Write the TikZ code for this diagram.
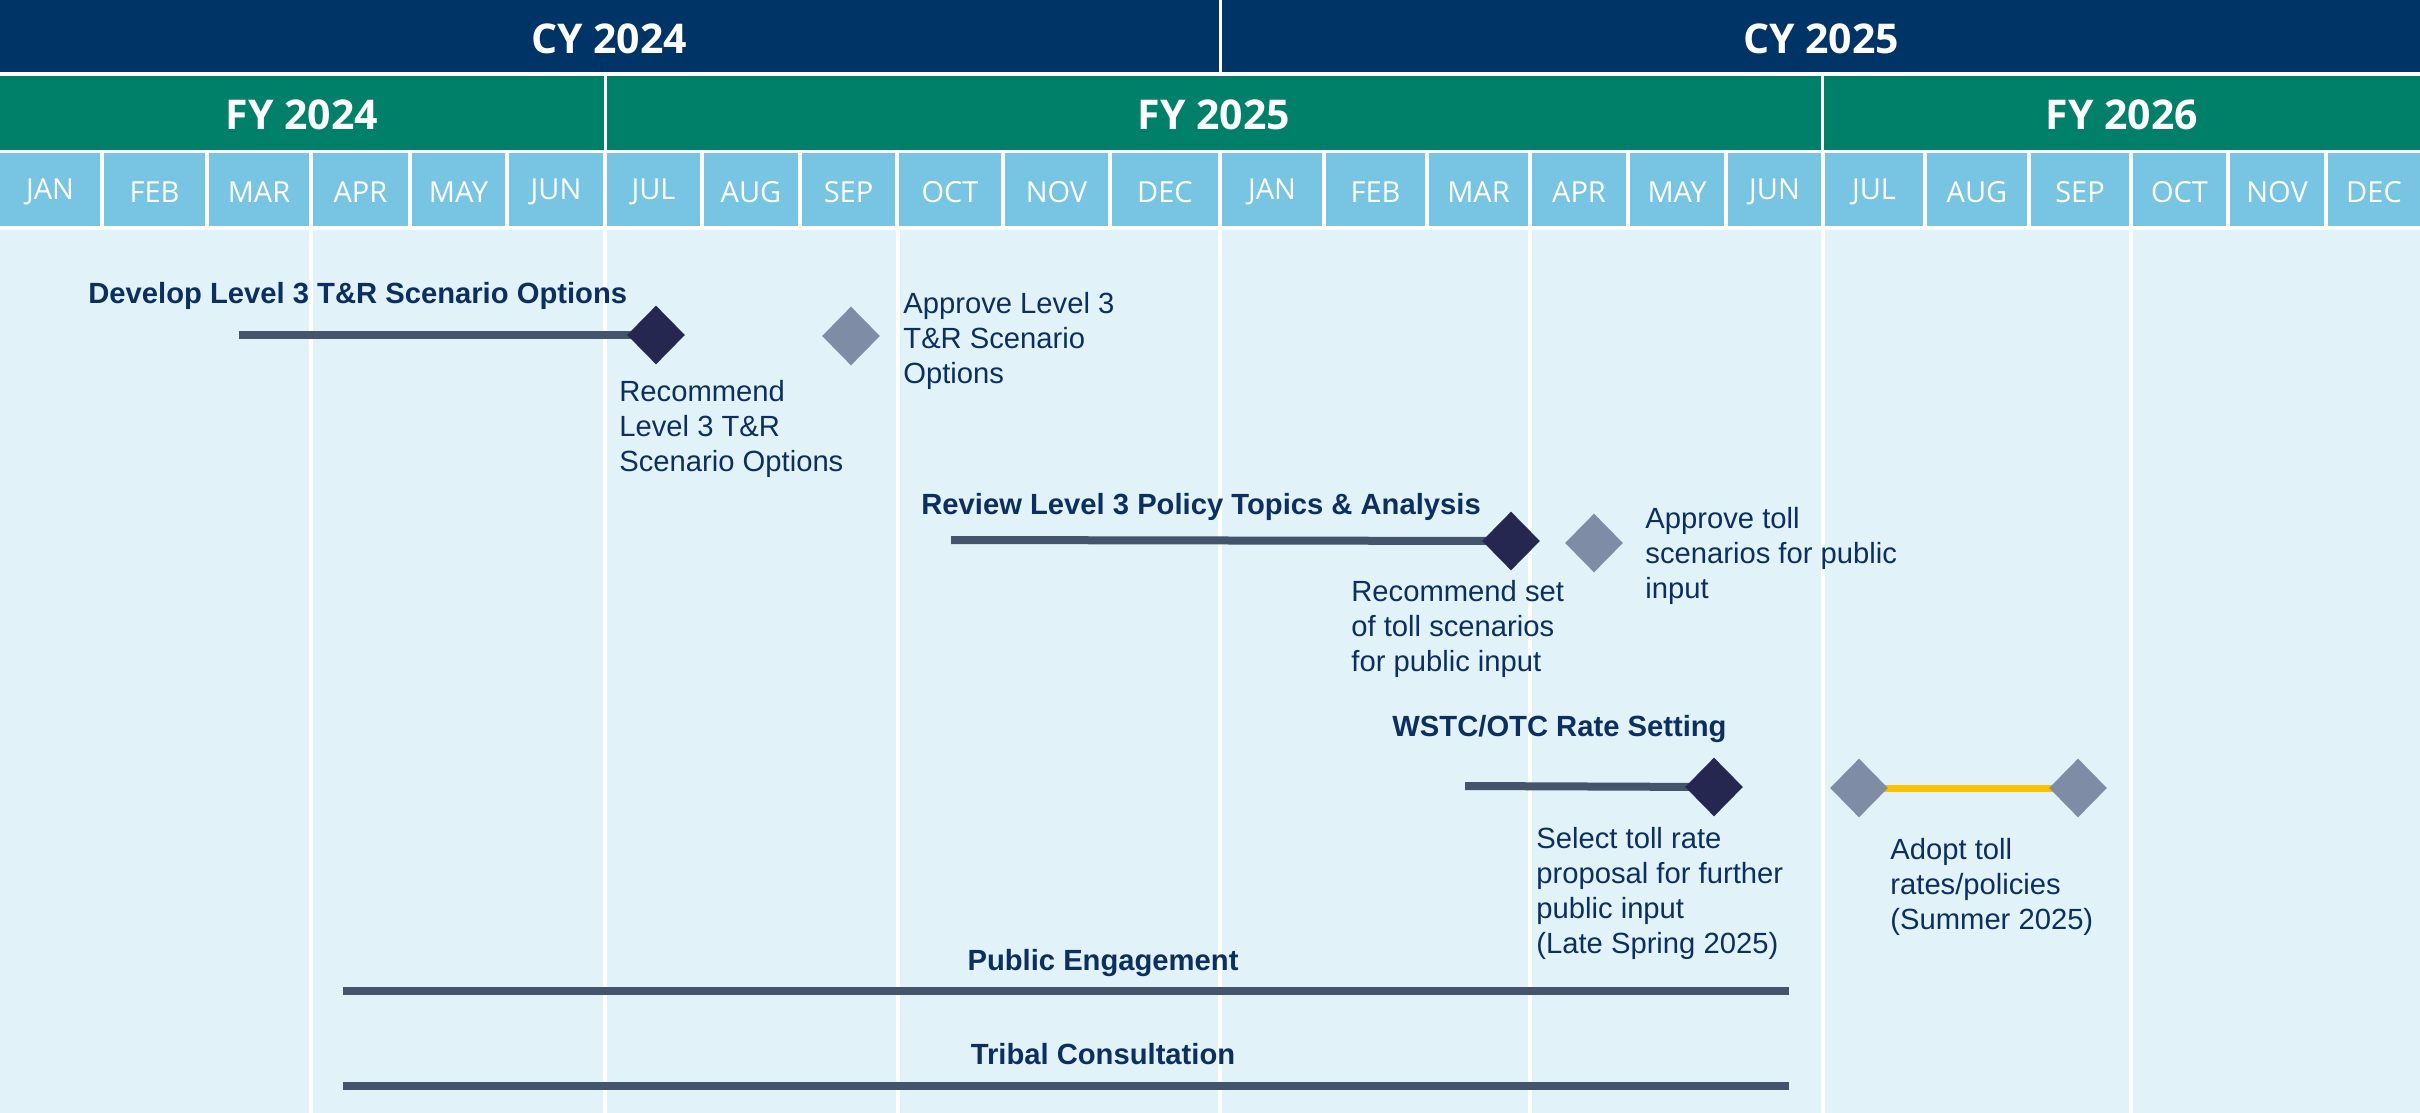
\documentclass[tikz,border=0pt]{standalone}
\usepackage{fontspec}
\setmainfont{Liberation Sans}
\newfontfamily\hdrfont{Open Sans}
\usetikzlibrary{shapes.geometric}
\definecolor{cynavy}{HTML}{003366}
\definecolor{fygreen}{HTML}{008069}
\definecolor{monthblue}{HTML}{77C5E3}
\definecolor{bodyblue}{HTML}{E1F2F9}
\definecolor{barslate}{HTML}{44546A}
\definecolor{darkdia}{HTML}{262751}
\definecolor{lightdia}{HTML}{7F8CA5}
\definecolor{txtnavy}{HTML}{0C2F5F}
\definecolor{goldbar}{HTML}{FFC000}
\pgfdeclarelayer{bg}
\pgfdeclarelayer{bars}
\pgfsetlayers{bg,bars,main}
\begin{document}
\begin{tikzpicture}[x=0.5pt,y=-0.5pt,
  yeartxt/.style={text=white,font=\hdrfont\bfseries\fontsize{20.5}{24}\selectfont,inner sep=0pt},
  montxt/.style={text=white,font=\hdrfont\fontsize{14.5}{17}\selectfont,inner sep=0pt},
  titletxt/.style={text=txtnavy,font=\bfseries\fontsize{14.6}{17.5}\selectfont,inner sep=0pt},
  notetxt/.style={text=txtnavy,font=\fontsize{14.6}{17.5}\selectfont,inner sep=0pt,align=left,anchor=west},
  darkdiamond/.style={shape=diamond,fill=darkdia,inner sep=0pt,minimum width=29pt,minimum height=29.5pt},
  lightdiamond/.style={shape=diamond,fill=lightdia,inner sep=0pt,minimum width=29pt,minimum height=29.5pt},
  taskbar/.style={draw=barslate,line width=4pt},
  goldline/.style={draw=goldbar,line width=3.5pt},
  quarterline/.style={draw=white,line width=2pt}]
\useasboundingbox (0,0) rectangle (2420,1113);
\begin{pgfonlayer}{bg}
\fill[white] (0,0) rectangle (2420,1113);
% calendar years
\fill[cynavy] (0,0) rectangle (1219,72);
\fill[cynavy] (1222,0) rectangle (2420,72);
% fiscal years
\fill[fygreen] (0,76) rectangle (604,150);
\fill[fygreen] (607,76) rectangle (1821,150);
\fill[fygreen] (1824,76) rectangle (2420,150);
% body
\fill[bodyblue] (0,230) rectangle (2420,1113);
\foreach \x in {311,605,898,1220,1530,1823,2131}{
  \draw[quarterline] (\x,230) -- (\x,1113);
}
\end{pgfonlayer}
\node[yeartxt] (cy24) at (609,39) {CY 2024};
\node[yeartxt] (cy25) at (1821,39) {CY 2025};
\node[yeartxt] (fy24) at (302,115) {FY 2024};
\node[yeartxt] (fy25) at (1214,115) {FY 2025};
\node[yeartxt] (fy26) at (2122,115) {FY 2026};
% months
\foreach \l/\r/\t [count=\i] in {0/100/JAN,104/205/FEB,209/309/MAR,313/408/APR,412/505/MAY,509/603/JUN,607/700/JUL,704/798/AUG,802/895/SEP,899/1001/OCT,1005/1108/NOV,1112/1218/DEC,1222/1322/JAN,1326/1425/FEB,1429/1528/MAR,1532/1626/APR,1630/1724/MAY,1728/1821/JUN,1825/1923/JUL,1927/2027/AUG,2031/2129/SEP,2133/2226/OCT,2230/2324/NOV,2328/2420/DEC}{
  \begin{pgfonlayer}{bg}\fill[monthblue] (\l,153) rectangle (\r,226);\end{pgfonlayer}
  \node[montxt] (m\i) at ({(\l+\r)/2},192) {\t};
}
% row 1
\node[titletxt,anchor=west] (t1) at (88,296) {Develop Level 3 T\&R Scenario Options};
\coordinate (b1s) at (239,335);
\node[darkdiamond] (d1) at (656,335) {};
\node[lightdiamond] (l1) at (851,336) {};
\begin{pgfonlayer}{bars}\draw[taskbar] (b1s) -- (d1.center);\end{pgfonlayer}
\node[notetxt] (r1) at (619,429) {Recommend\\Level 3 T\&R\\Scenario Options};
\node[notetxt] (a1) at (903,341) {Approve Level 3\\T\&R Scenario\\Options};
% row 2
\node[titletxt,anchor=west] (t2) at (921,507) {Review Level 3 Policy Topics \& Analysis};
\coordinate (b2s) at (951,540);
\node[darkdiamond] (d2) at (1511,541) {};
\node[lightdiamond] (l2) at (1594,543) {};
\begin{pgfonlayer}{bars}\draw[taskbar] (b2s) -- (d2.center);\end{pgfonlayer}
\node[notetxt] (r2) at (1351,629) {Recommend set\\of toll scenarios\\for public input};
\node[notetxt] (a2) at (1645,556) {Approve toll\\scenarios for public\\input};
% row 3
\node[titletxt,anchor=west] (t3) at (1392,729) {WSTC/OTC Rate Setting};
\coordinate (b3s) at (1465,786);
\node[darkdiamond] (d3) at (1714,787) {};
\node[lightdiamond] (l3a) at (1859,788) {};
\node[lightdiamond] (l3b) at (2078,788) {};
\begin{pgfonlayer}{bars}
  \draw[taskbar] (b3s) -- (d3.center);
  \draw[goldline] (l3a.center) -- (l3b.center);
\end{pgfonlayer}
\node[notetxt] (s3) at (1536,893) {Select toll rate\\proposal for further\\public input\\(Late Spring 2025)};
\node[notetxt] (a3) at (1890,887) {Adopt toll\\rates/policies\\(Summer 2025)};
% long bars
\node[titletxt] (t4) at (1103,963) {Public Engagement};
\coordinate (b4s) at (343,991);
\coordinate (b4e) at (1789,991);
\draw[taskbar] (b4s) -- (b4e);
\node[titletxt] (t5) at (1103,1054) {Tribal Consultation};
\coordinate (b5s) at (343,1086);
\coordinate (b5e) at (1789,1086);
\draw[taskbar] (b5s) -- (b5e);
\end{tikzpicture}
\end{document}
